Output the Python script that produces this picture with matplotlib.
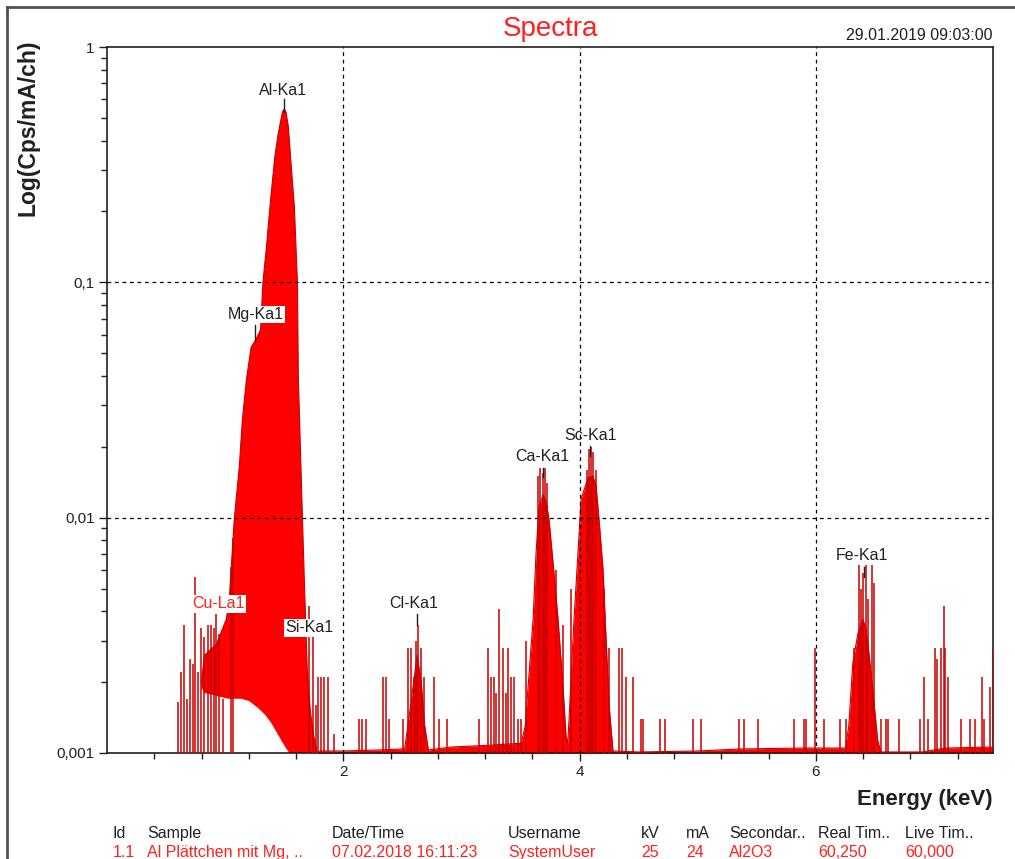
import numpy as np
import matplotlib
matplotlib.use('Agg')
from matplotlib import pyplot as plt
from matplotlib.lines import Line2D
from matplotlib.ticker import FixedLocator, NullFormatter

plt.rcParams['font.family'] = ['Liberation Sans', 'DejaVu Sans']

#Main Mg/Al peak envelope (upper edge) and the lower edge of the hole underneath
main_e = [0.80, 0.825, 0.926, 1.01, 1.035, 1.077, 1.12, 1.146, 1.18, 1.22, 1.26, 1.30, 1.32,
          1.35, 1.385, 1.42, 1.45, 1.485, 1.50, 1.515, 1.535, 1.56, 1.586, 1.612, 1.62, 1.645,
          1.67, 1.687, 1.696, 1.722, 1.747, 1.78]
main_y = [0.0020, 0.0026, 0.0029, 0.0037, 0.0045, 0.0098, 0.0165, 0.026, 0.0386, 0.053,
          0.057, 0.063, 0.100, 0.142, 0.225, 0.34, 0.43, 0.53, 0.545, 0.53, 0.46, 0.31, 0.21,
          0.10, 0.0386, 0.0145, 0.0055, 0.0030, 0.0022, 0.0015, 0.0012, 0.001]
hole_e = [0.80, 0.825, 0.926, 1.028, 1.137, 1.205, 1.281, 1.340, 1.391, 1.442, 1.485, 1.520, 1.544]
hole_y = [0.0019, 0.0018, 0.00175, 0.0017, 0.0017, 0.00166, 0.00155, 0.00145, 0.00134, 0.00121,
          0.00111, 0.00104, 0.001]

#Background and the Cl, Ca, Sc and Fe peaks
bg_e = [1.78, 1.80, 2.0, 2.3, 2.49, 2.52, 2.55, 2.59, 2.625, 2.66, 2.685, 2.72, 2.91, 3.25,
        3.505, 3.54, 3.564, 3.607, 3.632, 3.657, 3.691, 3.717, 3.742, 3.776, 3.818, 3.860,
        3.886, 3.90, 3.911, 3.953, 3.987, 4.013, 4.072, 4.114, 4.140, 4.165, 4.199, 4.224,
        4.250, 4.283, 4.5, 5.0, 5.35, 5.9, 6.25, 6.279, 6.313, 6.355, 6.398, 6.423, 6.448,
        6.482, 6.524, 6.55, 6.9, 7.1, 7.5]
bg_y = [0.001, 0.00102, 0.00102, 0.00103, 0.00104, 0.00105, 0.00134, 0.0019, 0.0026, 0.0020,
        0.00135, 0.00103, 0.00106, 0.00108, 0.0011, 0.0013, 0.0019, 0.0037, 0.0071, 0.0111,
        0.0125, 0.0117, 0.0098, 0.0064, 0.0037, 0.0019, 0.00117, 0.0011, 0.00138, 0.0037,
        0.0071, 0.012, 0.0148, 0.015, 0.0136, 0.0098, 0.006, 0.0031, 0.0016, 0.00102,
        0.00101, 0.00102, 0.00104, 0.00105, 0.00105, 0.0013, 0.0024, 0.0032, 0.0037, 0.0034,
        0.0027, 0.00185, 0.00113, 0.00101, 0.00101, 0.00105, 0.00106]

#Single channel count spikes (keV, Cps/mA/ch)
spike_e = [0.605, 0.630, 0.655, 0.681, 0.706, 0.731, 0.748, 0.774, 0.799, 0.825, 0.858, 0.884,
           0.909, 0.926, 0.951, 0.985, 1.05, 1.07,
           1.712, 1.746, 1.772, 1.789, 1.814, 1.839, 1.873, 1.924,
           2.135, 2.161, 2.194, 2.338, 2.364, 2.389, 2.507,
           2.550, 2.575, 2.600, 2.617, 2.634, 2.660, 2.685,
           2.770, 2.812, 2.879, 3.150, 3.226, 3.252, 3.277, 3.294, 3.319, 3.353, 3.378, 3.395,
           3.421, 3.446, 3.480, 3.505,
           3.55, 3.649, 3.666, 3.691, 3.708, 3.725, 3.80, 3.86, 3.93,
           4.063, 4.080, 4.097, 4.114, 4.140, 4.21, 4.25,
           4.334, 4.359, 4.393, 4.452, 4.520, 4.537, 4.681, 4.723, 4.960, 5.027, 5.349, 5.391,
           5.509, 5.814, 5.898, 5.915, 5.992, 6.068, 6.203, 6.254,
           6.322, 6.364, 6.381, 6.398, 6.423, 6.440, 6.474, 6.491,
           6.550, 6.592, 6.609, 6.702, 6.880, 6.913, 6.947, 7.006, 7.023, 7.057, 7.082, 7.091,
           7.116, 7.226, 7.302, 7.349, 7.408, 7.425, 7.476, 7.497]
spike_y = [0.00165, 0.0022, 0.0035, 0.0017, 0.0025, 0.0024, 0.0056, 0.0022, 0.0034, 0.0031,
           0.0035, 0.0035, 0.0034, 0.0039, 0.0032, 0.0017, 0.0062, 0.0082,
           0.0042, 0.0031, 0.0016, 0.0021, 0.0021, 0.0021, 0.0021, 0.0012,
           0.0014, 0.0014, 0.0014, 0.0021, 0.0021, 0.0014, 0.0014,
           0.0028, 0.0028, 0.0021, 0.0030, 0.0035, 0.0028, 0.0021,
           0.0021, 0.0014, 0.0014, 0.0014, 0.0028, 0.0021, 0.0021, 0.0018, 0.0041, 0.0028,
           0.0018, 0.0028, 0.0021, 0.0021, 0.0014, 0.0014,
           0.0030, 0.015, 0.0163, 0.0155, 0.0163, 0.014, 0.0060, 0.0035, 0.0050,
           0.016, 0.0195, 0.020, 0.019, 0.016, 0.0050, 0.0028,
           0.0028, 0.0028, 0.0021, 0.0021, 0.0014, 0.0014, 0.0014, 0.0014, 0.0014, 0.0014,
           0.0014, 0.0014, 0.0014, 0.0014, 0.0014, 0.0014, 0.0028, 0.0014, 0.0014, 0.0014,
           0.0028, 0.0063, 0.0050, 0.0058, 0.0063, 0.0045, 0.0063, 0.0053,
           0.0014, 0.0014, 0.0014, 0.0014, 0.0014, 0.0021, 0.0014, 0.0028, 0.0025, 0.0028,
           0.0042, 0.0028, 0.0021, 0.0014, 0.0014, 0.0014, 0.0021, 0.0014, 0.0019, 0.0028]

#Peak labels: name, energy, label height, colour
peak_names = ['Al-Ka1', 'Mg-Ka1', 'Cu-La1', 'Si-Ka1', 'Cl-Ka1', 'Ca-Ka1', 'Sc-Ka1', 'Fe-Ka1']
peak_e = [1.493, 1.256, 0.943, 1.713, 2.592, 3.683, 4.089, 6.389]
peak_label_y = [0.656, 0.073, 0.0043, 0.0034, 0.0043, 0.0182, 0.0223, 0.0069]
peak_tick_e = [1.502, 1.256, None, None, 2.626, 3.691, 4.089, 6.406]
peak_tick_top = [0.60, 0.066, None, None, 0.0039, 0.0163, 0.0202, 0.0062]
peak_tick_bot = [0.53, 0.057, None, None, 0.0035, 0.0149, 0.0183, 0.0056]
peak_colors = ['#202020', '#202020', '#ff2020', '#202020', '#202020', '#202020', '#202020', '#202020']
peak_boxed = [False, True, True, True, False, False, False, False]

#Measurement info below the chart
info_cols = ['Id', 'Sample', 'Date/Time', 'Username', 'kV', 'mA', 'Secondar..', 'Real Tim..', 'Live Tim..']
info_vals = ['1.1', 'Al Plättchen mit Mg, ..', '07.02.2018 16:11:23', 'SystemUser', '25', '24',
             'Al2O3', '60,250', '60,000']
info_x = [113, 147, 332, 508, 641, 686, 729, 818, 905]

fig = plt.figure(figsize=(10.15, 8.59), dpi=100)
ax = fig.add_axes([107/1015, 1 - 753/859, 886/1015, 706/859])
ax.set_yscale('log')
ax.set_xlim(0, 7.5)
ax.set_ylim(0.001, 1)

red = '#ff0000'
dark = '#c80000'

#Filled spectrum
ax.fill(np.r_[main_e, hole_e[::-1]], np.r_[main_y, hole_y[::-1]],
        color=red, lw=0, zorder=2)
ax.plot(main_e, main_y, color=dark, lw=0.8, zorder=3)
ax.fill_between(bg_e, 0.0009, bg_y, color=red, lw=0, zorder=2)
ax.plot(bg_e, bg_y, color=dark, lw=0.8, zorder=3)
ax.vlines(spike_e, 0.0009, spike_y, color=dark, lw=1.3, alpha=0.85, zorder=3)

#Grid
for gx in [2, 4, 6]:
    ax.axvline(gx, color='black', lw=0.9, ls=(0, (3, 3)), zorder=4)
for gy in [0.1, 0.01]:
    ax.axhline(gy, color='black', lw=0.9, ls=(0, (3, 3)), zorder=4)

#Peak labels
for name, e, ly, te, tt, tb, c, boxed in zip(peak_names, peak_e, peak_label_y, peak_tick_e,
                                              peak_tick_top, peak_tick_bot, peak_colors, peak_boxed):
    bbox = dict(facecolor='white', edgecolor='none', pad=1) if boxed else None
    ax.text(e, ly, name, ha='center', va='center', fontsize=11.5, color=c, bbox=bbox, zorder=6)
    if te is not None:
        ax.plot([te, te], [tb, tt], color='#202020', lw=1, zorder=6)

#Axes and ticks
ax.set_xticks([2, 4, 6])
ax.set_xticklabels(['2', '4', '6'])
ax.xaxis.set_minor_locator(FixedLocator([0.4 * i for i in range(1, 19) if i % 5 != 0]))
ax.set_yticks([0.001, 0.01, 0.1, 1])
ax.set_yticklabels(['0,001', '0,01', '0,1', '1'])
ax.yaxis.set_minor_locator(FixedLocator([m * 10.0 ** d for d in [-3, -2, -1] for m in range(2, 10)]))
ax.yaxis.set_minor_formatter(NullFormatter())
ax.tick_params(axis='both', which='major', direction='out', length=6, width=1,
               labelsize=11, colors='#202020', pad=3)
ax.tick_params(axis='both', which='minor', direction='out', length=4, width=1, colors='#202020')
for s in ax.spines.values():
    s.set_color('#202020')
    s.set_linewidth(1.2)

ax.set_title('Spectra', color='#ff2020', fontsize=20, pad=8)
ax.text(1.0, 1.005, '29.01.2019 09:03:00', transform=ax.transAxes, ha='right', va='bottom',
        fontsize=11.5, color='#202020')
fig.text(28/1015, 1 - 40/859, 'Log(Cps/mA/ch)', rotation=90, ha='center', va='top',
         fontsize=16.5, fontweight='bold', color='#202020')
fig.text(993/1015, 1 - 800/859, 'Energy (keV)', ha='right', va='center',
         fontsize=16, fontweight='bold', color='#202020')

for x, col, val in zip(info_x, info_cols, info_vals):
    fig.text(x/1015, 1 - 838/859, col, ha='left', va='baseline', fontsize=11.5, color='#202020')
    fig.text(x/1015, 1 - 857/859, val, ha='left', va='baseline', fontsize=11.5, color='#ff2020')

#Window frame
fig.add_artist(Line2D([7/1015, 7/1015], [0, 1 - 7/859], transform=fig.transFigure,
                      color='#505050', lw=2))
fig.add_artist(Line2D([7/1015, 1], [1 - 7/859, 1 - 7/859], transform=fig.transFigure,
                      color='#505050', lw=2))

fig.savefig('out.png', dpi=100)
